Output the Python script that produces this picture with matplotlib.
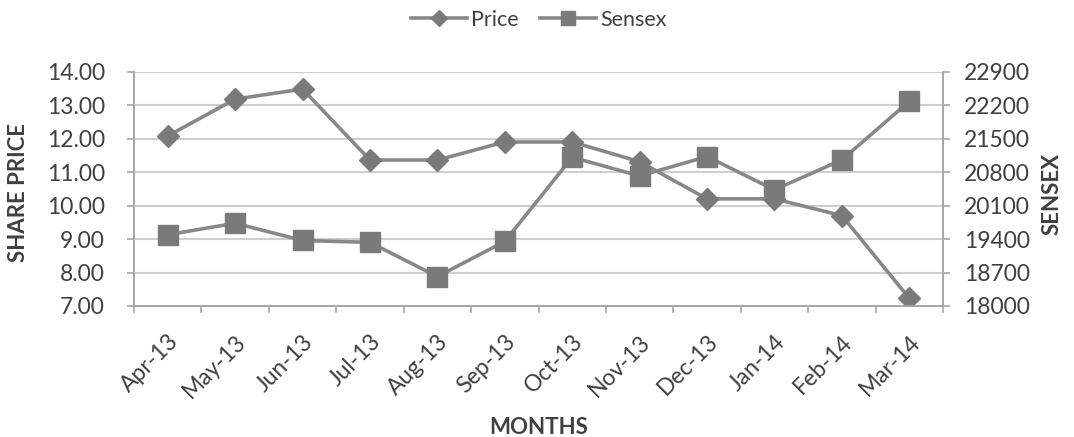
import numpy as np
import matplotlib
matplotlib.use("Agg")
import matplotlib.pyplot as plt

months = ["Apr-13", "May-13", "Jun-13", "Jul-13", "Aug-13", "Sep-13",
          "Oct-13", "Nov-13", "Dec-13", "Jan-14", "Feb-14", "Mar-14"]
price = [12.08, 13.18, 13.48, 11.36, 11.36, 11.90,
         11.90, 11.31, 10.20, 10.20, 9.70, 7.23]
sensex = [19490, 19730, 19370, 19330, 18615, 19350,
          21110, 20720, 21125, 20430, 21055, 22280]

plt.rcParams['font.family'] = ['Lato', 'DejaVu Sans']
txt = '#404040'
line_col = '#888888'
mark_col = '#7a7a7a'
grid_col = '#cfcfcf'
axis_col = '#a6a6a6'

fig = plt.figure(figsize=(10.74, 4.37), dpi=100)
ax = fig.add_axes([0.1248, 0.2998, 0.7532, 0.5362])
ax2 = ax.twinx()

x = np.arange(len(months))
l1, = ax.plot(x, price, color=line_col, lw=2.6, marker='D', ms=11,
              mfc=mark_col, mec=mark_col, label='Price', zorder=3)
l2, = ax2.plot(x, sensex, color=line_col, lw=2.6, marker='s', ms=14,
               mfc=mark_col, mec=mark_col, label='Sensex', zorder=3)

ax.set_xlim(-0.5, len(months) - 0.5)
ax.set_ylim(7, 14)
ax.set_yticks(np.arange(7, 14.01, 1))
ax.set_yticklabels([f"{v:.2f}" for v in np.arange(7, 14.01, 1)])
ax2.set_ylim(18000, 22900)
ax2.set_yticks(np.arange(18000, 22901, 700))

ax.set_xticks(x)
ax.set_xticklabels(months, rotation=45, ha='right', rotation_mode='anchor')
ax.set_xticks(np.arange(-0.5, len(months), 1), minor=True)
ax.tick_params(axis='x', which='major', length=0, pad=18, labelsize=16.5, colors=txt)
ax.tick_params(axis='x', which='minor', length=5, width=1.2, color=axis_col)
ax.tick_params(axis='y', length=5, width=1.2, color=axis_col, labelsize=16.5,
               labelcolor=txt, pad=16)
ax2.tick_params(axis='y', length=5, width=1.2, color=axis_col, labelsize=16.5,
                labelcolor=txt, pad=10)

ax.yaxis.grid(True, color=grid_col, lw=1.5)
ax.set_axisbelow(True)

for a in (ax, ax2):
    a.spines['top'].set_visible(False)
    for s in ('left', 'right', 'bottom'):
        a.spines[s].set_color(axis_col)
        a.spines[s].set_linewidth(1.2)

fig.text(19 / 1074, 1 - 192 / 437, "SHARE PRICE", rotation=90, ha='center', va='center',
         fontsize=16, fontweight='bold', color=txt)
fig.text(1052 / 1074, 1 - 194 / 437, "SENSEX", rotation=90, ha='center', va='center',
         fontsize=16, fontweight='bold', color=txt)
fig.text(539 / 1074, 1 - 427 / 437, "MONTHS", ha='center', va='center', fontsize=16,
         fontweight='bold', color=txt)

fig.legend(handles=[l1, l2], loc='center', bbox_to_anchor=(539 / 1074, 1 - 20 / 437), ncol=2,
           frameon=False, fontsize=15.5, labelcolor=txt, handlelength=2.6,
           columnspacing=1.0, handletextpad=0.2, markerscale=0.75)

fig.savefig("out.png", dpi=100, facecolor='white')
